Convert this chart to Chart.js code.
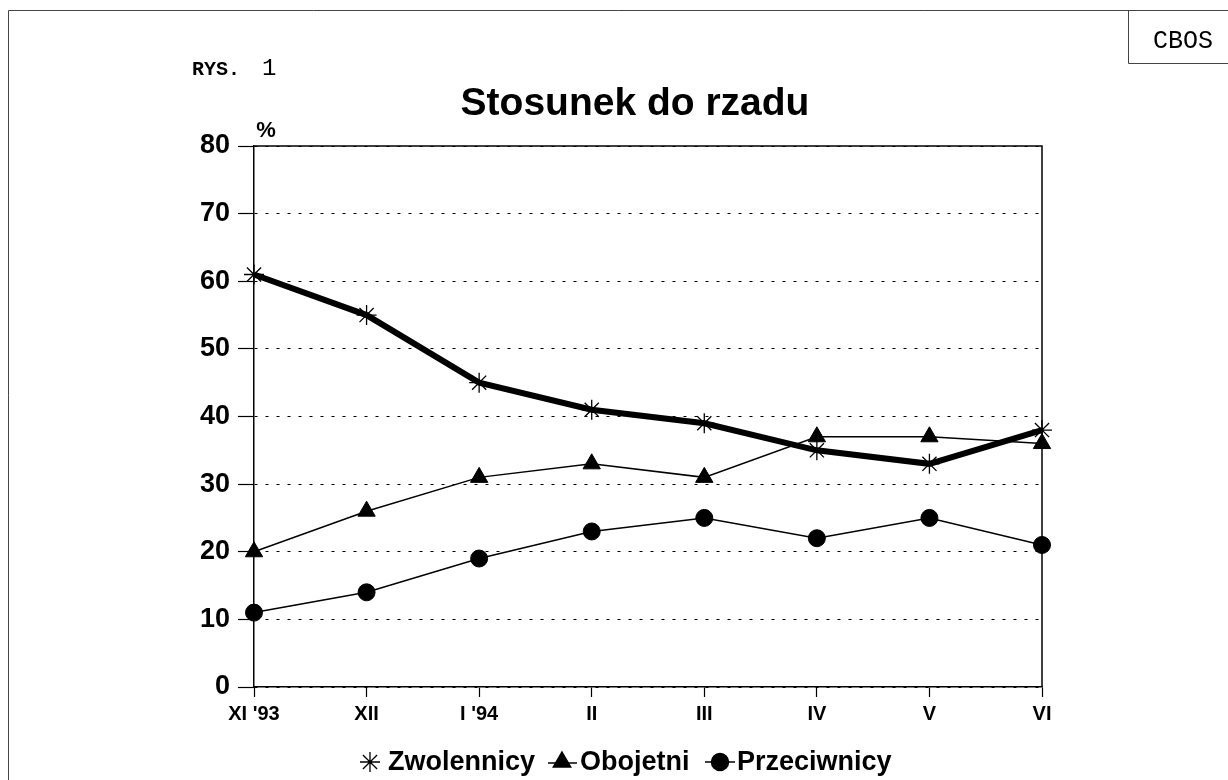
<!DOCTYPE html>
<html>
<head>
<meta charset="utf-8">
<script src="https://cdn.jsdelivr.net/npm/chart.js@4"></script>
<style>
html,body{margin:0;padding:0;background:#fff;}
#wrap{position:relative;width:1228px;height:780px;}
</style>
</head>
<body>
<div id="wrap"><canvas id="c" width="1228" height="780"></canvas></div>
<script>
const categories = ["XI '93", "XII", "I '94", "II", "III", "IV", "V", "VI"];
const zwolennicy = [61, 55, 45, 41, 39, 35, 33, 38];
const obojetni = [20, 26, 31, 33, 31, 37, 37, 36];
const przeciwnicy = [11, 14, 19, 23, 25, 22, 25, 21];
const seriesNames = ["Zwolennicy", "Obojetni", "Przeciwnicy"];
const yTicks = [0, 10, 20, 30, 40, 50, 60, 70, 80];
const titleText = "Stosunek do rzadu";

const SANS = "'Liberation Sans', Arial, sans-serif";
const MONO = "'Liberation Mono', 'Courier New', monospace";

const decor = {
  id: 'decor',
  beforeDatasetsDraw(chart) {
    const {ctx, chartArea: a} = chart;
    ctx.save();
    ctx.strokeStyle = '#000';
    ctx.lineWidth = 1.5;
    ctx.beginPath();
    ctx.moveTo(a.left, a.top);
    ctx.lineTo(a.right, a.top);
    ctx.lineTo(a.right, a.bottom);
    ctx.stroke();
    ctx.restore();
  },
  afterDraw(chart) {
    const {ctx} = chart;
    ctx.save();
    // page frame
    ctx.strokeStyle = '#444';
    ctx.lineWidth = 1;
    ctx.beginPath();
    ctx.moveTo(8.5, 780);
    ctx.lineTo(8.5, 10.5);
    ctx.lineTo(1228, 10.5);
    ctx.stroke();
    ctx.beginPath();
    ctx.moveTo(1128.5, 10.5);
    ctx.lineTo(1128.5, 63.5);
    ctx.lineTo(1228, 63.5);
    ctx.stroke();
    ctx.fillStyle = '#000';
    ctx.textBaseline = 'alphabetic';
    ctx.textAlign = 'center';
    ctx.font = "25px " + MONO;
    ctx.fillText("CBOS", 1183, 48);
    // RYS. 1
    ctx.textAlign = 'left';
    ctx.font = "bold 20px " + MONO;
    ctx.fillText("RYS.", 192, 75);
    ctx.font = "24px " + MONO;
    ctx.fillText("1", 262, 75);
    // title
    ctx.textAlign = 'center';
    ctx.font = "bold 39px " + SANS;
    ctx.fillText(titleText, 635, 115);
    // percent
    ctx.font = "bold 22px " + SANS;
    ctx.fillText("%", 266, 137);
    // legend
    const ly = 762;
    ctx.textAlign = 'left';
    ctx.textBaseline = 'middle';
    ctx.font = "bold 27px " + SANS;
    const H = Chart.helpers;
    ctx.strokeStyle = '#000';
    ctx.fillStyle = '#000';
    // star
    ctx.lineWidth = 1.3;
    H.drawPoint(ctx, {pointStyle: 'star', radius: 10, rotation: 0, borderWidth: 1.3}, 370, ly);
    ctx.fillText(seriesNames[0], 388, ly + 1);
    // triangle
    ctx.lineWidth = 1.5;
    ctx.beginPath(); ctx.moveTo(548, ly + 1); ctx.lineTo(577, ly + 1); ctx.stroke();
    H.drawPoint(ctx, {pointStyle: 'triangle', radius: 10, rotation: 0, borderWidth: 1}, 562, ly);
    ctx.fillText(seriesNames[1], 580, ly + 1);
    // circle
    ctx.lineWidth = 1.5;
    ctx.beginPath(); ctx.moveTo(705, ly); ctx.lineTo(735, ly); ctx.stroke();
    H.drawPoint(ctx, {pointStyle: 'circle', radius: 8.5, rotation: 0, borderWidth: 1}, 720, ly);
    ctx.fillText(seriesNames[2], 737, ly + 1);
    ctx.restore();
  }
};

new Chart(document.getElementById('c'), {
  type: 'line',
  data: {
    labels: categories,
    datasets: [
      {
        label: seriesNames[0], data: zwolennicy,
        borderColor: '#000', backgroundColor: '#000', borderWidth: 6,
        pointStyle: 'star', pointRadius: 10, pointBorderWidth: 1.3,
        pointBorderColor: '#000', pointBackgroundColor: '#000',
        tension: 0, clip: false
      },
      {
        label: seriesNames[1], data: obojetni,
        borderColor: '#000', backgroundColor: '#000', borderWidth: 1.5,
        pointStyle: 'triangle', pointRadius: 10, pointBorderWidth: 1,
        pointBorderColor: '#000', pointBackgroundColor: '#000',
        tension: 0, clip: false
      },
      {
        label: seriesNames[2], data: przeciwnicy,
        borderColor: '#000', backgroundColor: '#000', borderWidth: 1.5,
        pointStyle: 'circle', pointRadius: 8.5, pointBorderWidth: 1,
        pointBorderColor: '#000', pointBackgroundColor: '#000',
        tension: 0, clip: false
      }
    ]
  },
  options: {
    responsive: false,
    animation: false,
    events: [],
    layout: {padding: {left: 0, top: 146, right: 186, bottom: 0}},
    plugins: {legend: {display: false}, title: {display: false}, tooltip: {enabled: false}},
    scales: {
      x: {
        type: 'category',
        offset: false,
        grid: {drawOnChartArea: false, drawTicks: true, tickLength: 10, color: '#000', tickWidth: 1.2},
        border: {color: '#000', width: 1.5},
        ticks: {color: '#000', font: {family: SANS, size: 20, weight: 'bold'}, padding: 5, maxRotation: 0, autoSkip: false},
        afterFit(s) { s.height = 93; }
      },
      y: {
        min: 0, max: 80,
        afterBuildTicks(s) { s.ticks = yTicks.map(v => ({value: v})); },
        grid: {color: '#000', lineWidth: 1, tickLength: 16, tickWidth: 1.2, tickBorderDash: [], drawTicks: true},
        border: {color: '#000', width: 1.5, dash: [3, 8]},
        ticks: {color: '#000', font: {family: SANS, size: 27, weight: 'bold'}, padding: 8},
        afterFit(s) { s.width = 254; }
      }
    }
  },
  plugins: [decor]
});
</script>
</body>
</html>
